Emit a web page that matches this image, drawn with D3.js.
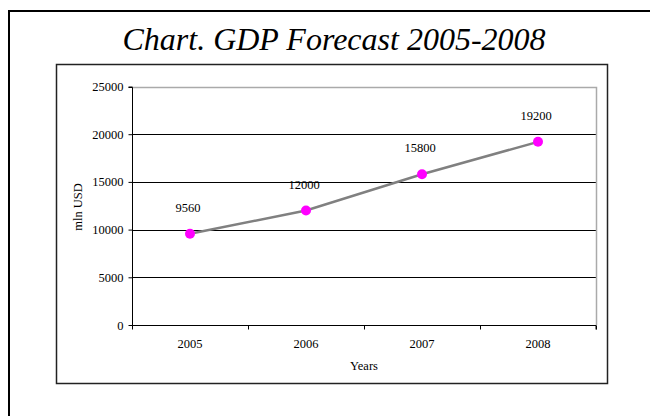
<!DOCTYPE html>
<html>
<head>
<meta charset="utf-8">
<script src="https://cdn.jsdelivr.net/npm/d3@7"></script>
<style>
  body { margin: 0; background: #fff; }
  svg text { font-family: "Liberation Serif", "Times New Roman", Times, serif; }
</style>
</head>
<body>
<div id="chart"></div>
<script>
// Chart data
const years = ["2005", "2006", "2007", "2008"];
const gdp = [9560, 12000, 15800, 19200];
const yTicks = [0, 5000, 10000, 15000, 20000, 25000];

const W = 650, H = 416;
const plot = { left: 132, right: 596, top: 86.5, bottom: 325 };

const svg = d3.select("#chart")
  .append("svg")
  .attr("width", W)
  .attr("height", H);

svg.append("rect").attr("width", W).attr("height", H).attr("fill", "#fff");

// outer frame (runs off the page on the right and bottom)
svg.append("rect")
  .attr("x", 9).attr("y", 11)
  .attr("width", 700).attr("height", 500)
  .attr("fill", "none").attr("stroke", "#000").attr("stroke-width", 2);

// title
svg.append("text")
  .attr("x", 334).attr("y", 50)
  .attr("text-anchor", "middle")
  .style("font-size", "32px")
  .style("font-style", "italic")
  .text("Chart. GDP Forecast 2005-2008");

// inner chart box
svg.append("rect")
  .attr("x", 56.5).attr("y", 64.5)
  .attr("width", 551).attr("height", 319)
  .attr("fill", "#fff").attr("stroke", "#222").attr("stroke-width", 1.5);

// scales
const x = d3.scaleBand()
  .domain(years)
  .range([plot.left, plot.right])
  .padding(0);

const y = d3.scaleLinear()
  .domain([0, 25000])
  .range([plot.bottom, plot.top]);

// grid lines
svg.append("g")
  .selectAll("line")
  .data(yTicks.filter(d => d > 0 && d < 25000))
  .enter()
  .append("line")
  .attr("x1", plot.left).attr("x2", plot.right)
  .attr("y1", d => Math.round(y(d)) + 0.5)
  .attr("y2", d => Math.round(y(d)) + 0.5)
  .attr("stroke", "#000");

// plot area border (top and right in gray)
svg.append("path")
  .attr("d", `M${plot.left},${Math.round(y(25000)) + 0.5}H${plot.right + 0.5}V${plot.bottom}`)
  .attr("fill", "none").attr("stroke", "#aaa").attr("stroke-width", 1.5);

// y axis
const yAxis = svg.append("g")
  .attr("transform", `translate(${plot.left + 0.5},0)`)
  .call(d3.axisLeft(y).tickValues(yTicks).tickSize(4).tickPadding(5).tickFormat(d3.format("d")));
yAxis.attr("font-family", null).attr("font-size", null);
yAxis.selectAll("text").style("font-size", "12.5px").attr("fill", "#000");
yAxis.selectAll("line, path").attr("stroke", "#000");
yAxis.select(".domain").attr("d", `M-4,${Math.round(y(25000)) + 0.5}H0V${plot.bottom}`);

// x axis: tick marks between categories
const xEdge = d3.scaleLinear().domain([0, years.length]).range([plot.left, plot.right]);
const xTickAxis = svg.append("g")
  .attr("transform", `translate(0,${Math.round(y(0)) + 0.5})`)
  .call(d3.axisBottom(xEdge).ticks(years.length).tickSize(4).tickFormat(""));
xTickAxis.selectAll("line, path").attr("stroke", "#000");
xTickAxis.select(".domain").attr("d", `M${plot.left},0H${plot.right}V4`);

// x axis: year labels
const xAxis = svg.append("g")
  .attr("transform", `translate(0,${Math.round(y(0)) + 0.5})`)
  .call(d3.axisBottom(x).tickSize(0).tickPadding(14));
xAxis.attr("font-family", null).attr("font-size", null);
xAxis.select(".domain").remove();
xAxis.selectAll("text").style("font-size", "12.5px").attr("fill", "#000");

// axis titles
svg.append("text")
  .attr("x", (plot.left + plot.right) / 2).attr("y", 370)
  .attr("text-anchor", "middle")
  .style("font-size", "12.5px")
  .text("Years");

svg.append("text")
  .attr("transform", `translate(82,207) rotate(-90)`)
  .attr("text-anchor", "middle")
  .style("font-size", "12.5px")
  .text("mln USD");

// line
const line = d3.line()
  .x((d, i) => x(years[i]) + x.bandwidth() / 2)
  .y(d => y(d));

svg.append("path")
  .datum(gdp)
  .attr("d", line)
  .attr("fill", "none")
  .attr("stroke", "#808080")
  .attr("stroke-width", 2.5);

// markers
svg.selectAll(".dot")
  .data(gdp)
  .enter()
  .append("circle")
  .attr("class", "dot")
  .attr("cx", (d, i) => x(years[i]) + x.bandwidth() / 2)
  .attr("cy", d => y(d))
  .attr("r", 5)
  .attr("fill", "#ff00ff");

// value labels
svg.selectAll(".lbl")
  .data(gdp)
  .enter()
  .append("text")
  .attr("class", "lbl")
  .attr("x", (d, i) => x(years[i]) + x.bandwidth() / 2 - 2)
  .attr("y", d => y(d) - 22)
  .attr("text-anchor", "middle")
  .style("font-size", "12.5px")
  .text(d => d);
</script>
</body>
</html>
